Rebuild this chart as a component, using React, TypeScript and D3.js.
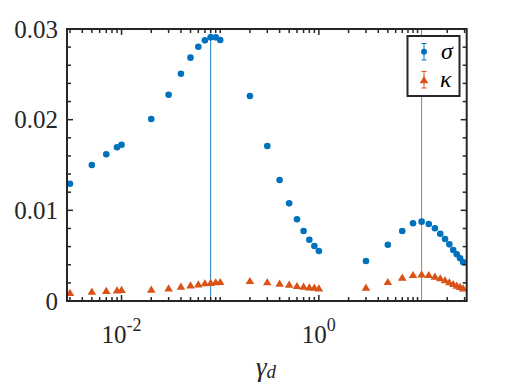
import React from "react";
import * as d3 from "d3";

const xVals = [0.003, 0.005, 0.007, 0.009, 0.01, 0.02, 0.03, 0.04, 0.05, 0.06, 0.07, 0.08, 0.09, 0.1, 0.2, 0.3, 0.4, 0.5, 0.6, 0.7, 0.8, 0.9, 1, 3, 5, 7, 9, 11, 13, 15, 17, 19, 21, 23, 25, 27, 29];
const sigmaVals = [0.01294, 0.0150, 0.01618, 0.01695, 0.01724, 0.02007, 0.02275, 0.02507, 0.02684, 0.02805, 0.02875, 0.02908, 0.02908, 0.02879, 0.02261, 0.01709, 0.01334, 0.01077, 0.00901, 0.00772, 0.00676, 0.00607, 0.00551, 0.00441, 0.00621, 0.00772, 0.00857, 0.00875, 0.00849, 0.00802, 0.00742, 0.00684, 0.00625, 0.00562, 0.00515, 0.00471, 0.00427];
const kappaVals = [0.00092, 0.00107, 0.00114, 0.00121, 0.00125, 0.00129, 0.00143, 0.00162, 0.00176, 0.00187, 0.00199, 0.00204, 0.0021, 0.00213, 0.00224, 0.0021, 0.00195, 0.00184, 0.00169, 0.00162, 0.00154, 0.00151, 0.00143, 0.00151, 0.00213, 0.00261, 0.0029, 0.00298, 0.0029, 0.00272, 0.00254, 0.00232, 0.0021, 0.00191, 0.00173, 0.00158, 0.00143];
const peakLines = [0.08, 11];
const xMajorTicks = [0.01, 1];
const xMajorExps = ["-2", "0"];
const yMajorTicks = [0, 0.01, 0.02, 0.03];
const yTickLabels = ["0", "0.01", "0.02", "0.03"];
const seriesNames = ["σ", "κ"];

const BLUE = "#0072BD";
const ORANGE = "#D95319";
const AX = "#262626";
const FONT = '"Liberation Serif", "Times New Roman", serif';
const tf = { fontFamily: FONT } as React.CSSProperties;

export default function App() {
  const left = 67, right = 466.7, top = 29, bottom = 301;
  const x = d3.scaleLog().domain([0.0028, 31.5]).range([left, right]);
  const y = d3.scaleLinear().domain([0, 0.03]).range([bottom, top]);

  const xMinor: number[] = [];
  for (let e = -3; e <= 1; e++) {
    for (let m = 1; m <= 9; m++) {
      const v = m * Math.pow(10, e);
      if (v >= 0.0028 && v <= 31.5 && !xMajorTicks.some((t) => Math.abs(t - v) / v < 1e-6)) xMinor.push(v);
    }
  }
  const yMinor: number[] = d3.range(0, 0.0301, 0.002).filter((v) => !yMajorTicks.some((t) => Math.abs(t - v) < 1e-6));

  const tri = "M0,-3.8L4.3,3.4L-4.3,3.4Z";

  return (
    <svg width={515} height={386} style={{ position: "absolute", left: 0, top: 0, background: "#fff" }}>
      <rect x={0} y={0} width={515} height={386} fill="#fff" />
      {/* peak lines */}
      <line x1={x(peakLines[0])} x2={x(peakLines[0])} y1={top} y2={bottom} stroke={BLUE} strokeWidth={0.9} />
      <line x1={x(peakLines[1])} x2={x(peakLines[1])} y1={top} y2={bottom} stroke={ORANGE} strokeWidth={0.9} />
      {/* data */}
      {xVals.map((xv, i) => (
        <circle key={"s" + i} cx={x(xv)} cy={y(sigmaVals[i])} r={3.3} fill={BLUE} />
      ))}
      {xVals.map((xv, i) => (
        <path key={"k" + i} d={tri} transform={`translate(${x(xv)},${y(kappaVals[i])})`} fill={ORANGE} />
      ))}
      {/* axes box */}
      <rect x={left} y={top} width={right - left} height={bottom - top} fill="none" stroke={AX} strokeWidth={2} />
      {/* x ticks */}
      {xMinor.map((v, i) => (
        <g key={"xm" + i}>
          <line x1={x(v)} x2={x(v)} y1={bottom} y2={bottom - 4} stroke={AX} strokeWidth={1.5} />
          <line x1={x(v)} x2={x(v)} y1={top} y2={top + 4} stroke={AX} strokeWidth={1.5} />
        </g>
      ))}
      {xMajorTicks.map((v, i) => (
        <g key={"xM" + i}>
          <line x1={x(v)} x2={x(v)} y1={bottom} y2={bottom - 6} stroke={AX} strokeWidth={1.5} />
          <line x1={x(v)} x2={x(v)} y1={top} y2={top + 6} stroke={AX} strokeWidth={1.5} />
          <text x={x(v)} y={343} fontSize={25} textAnchor="middle" fill={AX} style={tf}>
            <tspan>10</tspan>
            <tspan fontSize={18} dy={-12}>{xMajorExps[i]}</tspan>
          </text>
        </g>
      ))}
      {/* y ticks */}
      {yMinor.map((v, i) => (
        <g key={"ym" + i}>
          <line x1={left} x2={left + 4} y1={y(v)} y2={y(v)} stroke={AX} strokeWidth={1.5} />
          <line x1={right} x2={right - 4} y1={y(v)} y2={y(v)} stroke={AX} strokeWidth={1.5} />
        </g>
      ))}
      {yMajorTicks.map((v, i) => (
        <g key={"yM" + i}>
          <line x1={left} x2={left + 6} y1={y(v)} y2={y(v)} stroke={AX} strokeWidth={1.5} />
          <line x1={right} x2={right - 6} y1={y(v)} y2={y(v)} stroke={AX} strokeWidth={1.5} />
          <text x={58} y={y(v) + 8.5} fontSize={25} textAnchor="end" fill={AX} style={tf}>{yTickLabels[i]}</text>
        </g>
      ))}
      {/* x label */}
      <text x={266} y={376} fontSize={27} textAnchor="middle" fill={AX} style={tf}>
        <tspan fontStyle="italic">γ</tspan>
        <tspan fontStyle="italic" fontSize={19} dy={2}>d</tspan>
      </text>
      {/* legend */}
      <rect x={407.5} y={36} width={52} height={60} fill="#fff" stroke={AX} strokeWidth={2} />
      <g>
        <line x1={424} x2={424} y1={43.5} y2={60} stroke={BLUE} strokeWidth={1} />
        <line x1={421.5} x2={426.5} y1={43.5} y2={43.5} stroke={BLUE} strokeWidth={1} />
        <line x1={421.5} x2={426.5} y1={60} y2={60} stroke={BLUE} strokeWidth={1} />
        <circle cx={424} cy={51.7} r={3} fill={BLUE} />
        <text x={441} y={59} fontSize={24} fontStyle="italic" fill="#000" style={tf}>{seriesNames[0]}</text>
      </g>
      <g>
        <line x1={424} x2={424} y1={71.5} y2={88} stroke={ORANGE} strokeWidth={1} />
        <line x1={421.5} x2={426.5} y1={71.5} y2={71.5} stroke={ORANGE} strokeWidth={1} />
        <line x1={421.5} x2={426.5} y1={88} y2={88} stroke={ORANGE} strokeWidth={1} />
        <path d={tri} transform="translate(424,79.8)" fill={ORANGE} />
        <text x={440} y={87} fontSize={24} fontStyle="italic" fill="#000" style={tf}>{seriesNames[1]}</text>
      </g>
    </svg>
  );
}
